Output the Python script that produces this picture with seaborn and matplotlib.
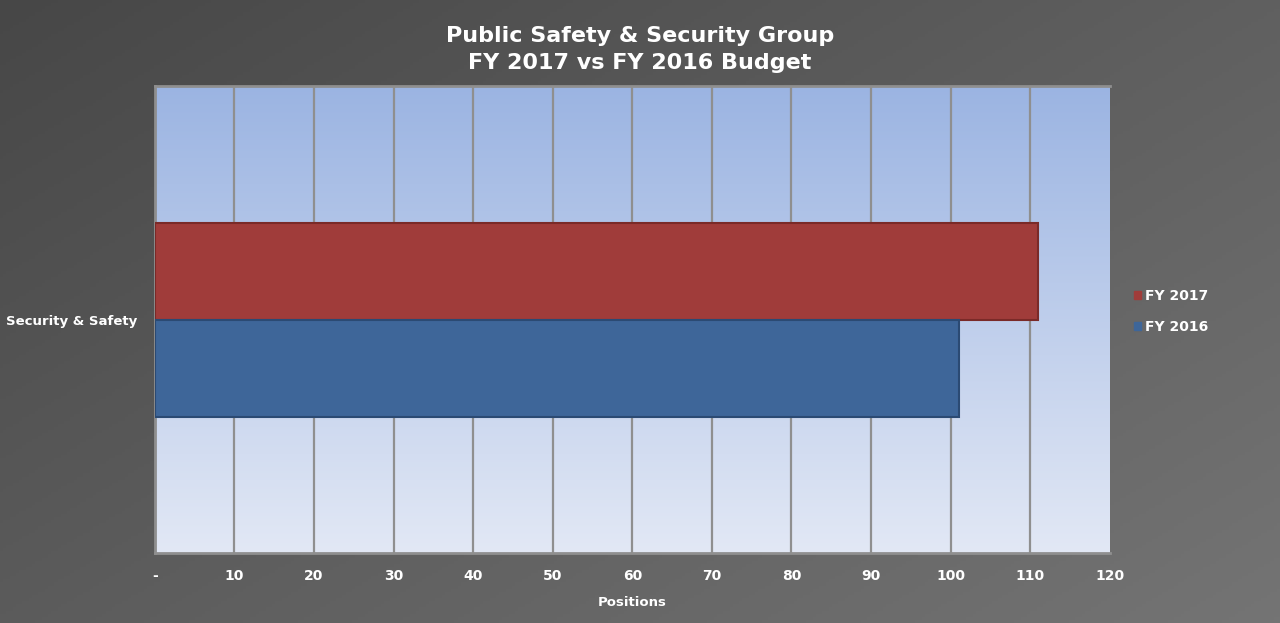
import matplotlib
matplotlib.use("Agg")
import matplotlib.pyplot as plt
import numpy as np
import pandas as pd
import seaborn as sns
from matplotlib.colors import LinearSegmentedColormap

CATEGORIES = ["Security & Safety"]
SERIES = ["FY 2017", "FY 2016"]
POSITIONS = [111, 101]
X_TICKS = [0, 10, 20, 30, 40, 50, 60, 70, 80, 90, 100, 110, 120]
X_TICK_LABELS = ["-", "10", "20", "30", "40", "50", "60", "70", "80", "90", "100", "110", "120"]

TITLE = "Public Safety & Security Group\nFY 2017 vs FY 2016 Budget"
COLORS = ["#a03c3a", "#3e6699"]
EDGE_COLORS = ["#7a2a28", "#2b4a73"]


def main() -> None:
    sns.set_theme(style="white")
    plt.rcParams["font.family"] = ["DejaVu Sans"]

    df = pd.DataFrame({
        "category": CATEGORIES * len(SERIES),
        "series": SERIES,
        "positions": POSITIONS,
    })

    fig = plt.figure(figsize=(12.8, 6.23), dpi=100)

    # dark gradient background behind everything
    bg = fig.add_axes([0, 0, 1, 1], zorder=-10)
    yy, xx = np.mgrid[0:1:200j, 0:1:400j]
    grad = 0.55 * xx + 0.45 * yy
    bg_cmap = LinearSegmentedColormap.from_list("bg", ["#474747", "#747474"])
    bg.imshow(grad, cmap=bg_cmap, aspect="auto", extent=[0, 1, 0, 1], origin="upper")
    bg.set_axis_off()

    ax = fig.add_axes([0.121, 0.112, 0.746, 0.750])
    ax.set_facecolor("none")

    # light blue vertical gradient in plot area
    area_cmap = LinearSegmentedColormap.from_list("area", ["#9bb4e2", "#e2e8f5"])
    ax.imshow(np.linspace(0, 1, 256).reshape(-1, 1), cmap=area_cmap, aspect="auto",
              extent=[0, 120, 0.5, -0.5], zorder=0)

    sns.barplot(data=df, y="category", x="positions", hue="series", orient="h",
                palette=COLORS, saturation=1, width=0.415, ax=ax, zorder=3, legend=True)

    for patch_group, edge in zip(ax.containers, EDGE_COLORS):
        for p in patch_group:
            p.set_edgecolor(edge)
            p.set_linewidth(1.5)

    ax.set_xlim(0, 120)
    ax.set_ylim(0.5, -0.5)
    ax.set_xticks(X_TICKS)
    ax.set_xticklabels(X_TICK_LABELS, color="white", fontsize=10, fontweight="bold")
    ax.tick_params(axis="x", length=0, pad=11)
    ax.tick_params(axis="y", length=0, pad=13)
    for lbl in ax.get_yticklabels():
        lbl.set_color("white")
        lbl.set_fontsize(9.5)
        lbl.set_fontweight("bold")
    ax.set_ylabel("")
    ax.set_xlabel("Positions", color="white", fontsize=9.5, fontweight="bold", labelpad=10)

    ax.grid(axis="x", color="#8f8f8f", linewidth=1.6, zorder=1)
    ax.get_xgridlines()[-1].set_visible(False)
    ax.set_axisbelow(True)
    ax.spines["right"].set_visible(False)
    for side in ["left", "bottom", "top"]:
        ax.spines[side].set_color("#8f8f8f")
        ax.spines[side].set_linewidth(2)

    handles, labels = ax.get_legend_handles_labels()
    ax.legend_.remove()
    leg = fig.legend(handles, labels, loc="center left", bbox_to_anchor=(0.876, 0.50),
                     frameon=False, handlelength=0.55, handleheight=0.55, handletextpad=0.25,
                     labelspacing=1.2, prop={"weight": "bold", "size": 10})
    for t, h, c in zip(leg.get_texts(), leg.legend_handles, COLORS):
        t.set_color("white")
        h.set_facecolor(c)
        h.set_edgecolor(c)

    fig.text(0.5, 0.958, TITLE, ha="center", va="top", color="white",
             fontsize=16, fontweight="bold", linespacing=1.45)

    fig.savefig("out.png", dpi=100)
    plt.close(fig)


if __name__ == "__main__":
    main()
